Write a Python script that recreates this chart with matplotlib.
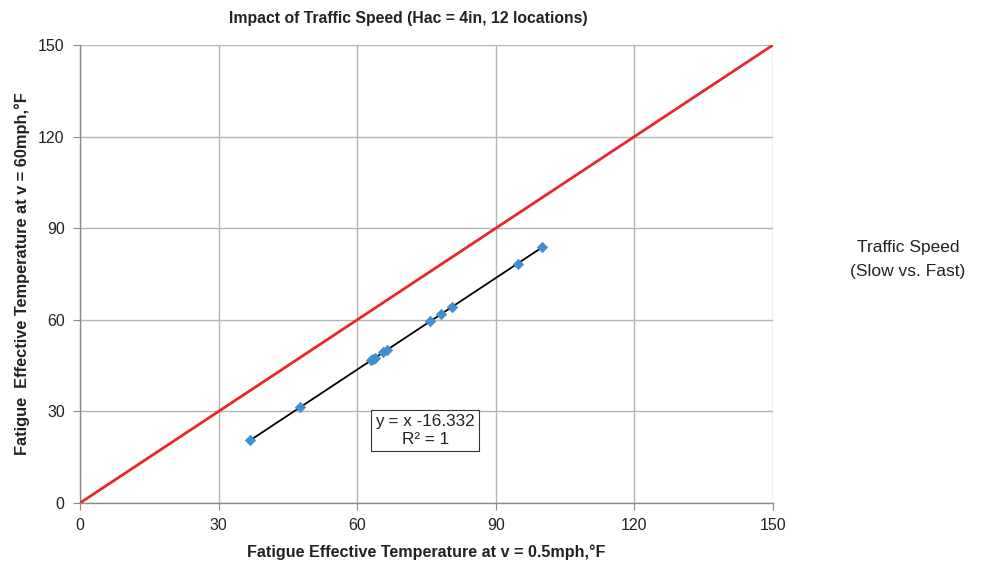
import numpy as np
import matplotlib
matplotlib.use("Agg")
import matplotlib.pyplot as plt

plt.rcParams['font.family'] = ['Liberation Sans', 'DejaVu Sans']

# Fatigue effective temperature (°F) at slow and fast traffic speeds, 12 locations
temp_slow = [36.8, 47.6, 63.0, 63.5, 63.9, 65.6, 66.4, 75.8, 78.1, 80.6, 94.7, 100.1]
temp_fast = [20.5, 31.3, 46.7, 47.2, 47.6, 49.3, 50.1, 59.5, 61.8, 64.3, 78.4, 83.8]
ticks = [0, 30, 60, 90, 120, 150]

fig = plt.figure(figsize=(9.94, 5.71), dpi=100)
ax = fig.add_axes([80/994, 1 - 503/571, 693/994, 458/571])

ax.set_xlim(0, 150)
ax.set_ylim(0, 150)
ax.set_xticks(ticks)
ax.set_yticks(ticks)
ax.grid(True, color='#b4b4b4', linewidth=1.0)
ax.set_axisbelow(True)
for side in ['top', 'right']:
    ax.spines[side].set_visible(False)
for side in ['left', 'bottom']:
    ax.spines[side].set_color('#8a8a8a')
    ax.spines[side].set_linewidth(1.0)
ax.tick_params(axis='both', direction='out', length=5, color='#8a8a8a',
               labelsize=11.5, labelcolor='#222222', pad=6)

# line of equality
ax.plot([0, 150], [0, 150], color='#e8262b', linewidth=2.0, zorder=3)

# linear trend line
xs = np.array(temp_slow)
ys = np.array(temp_fast)
slope, intercept = np.polyfit(xs, ys, 1)
xline = np.array([xs.min(), xs.max()])
ax.plot(xline, slope * xline + intercept, color='black', linewidth=1.3, zorder=4)

ax.scatter(xs, ys, marker='D', s=28, color='#3f8fd0', edgecolors='#3f8fd0',
           linewidths=0.5, zorder=5)

ax.text(74.7, 23.7, 'y = x -16.332\nR² = 1', ha='center', va='center', fontsize=12.3,
        color='#222222', linespacing=1.25,
        bbox=dict(boxstyle='square,pad=0.25', facecolor='white', edgecolor='#333333',
                  linewidth=0.8), zorder=6)

ax.set_xlabel('Fatigue Effective Temperature at v = 0.5mph,°F', fontsize=11.6,
              fontweight='bold', color='#222222', labelpad=8)
ax.set_ylabel('Fatigue  Effective Temperature at v = 60mph,°F', fontsize=11.8,
              fontweight='bold', color='#222222', labelpad=6)
fig.text(408/994, 1 - 19/571, 'Impact of Traffic Speed (Hac = 4in, 12 locations)',
         ha='center', va='center', fontsize=11.3, fontweight='bold', color='#222222')

fig.text(908/994, 1 - 260/571, 'Traffic Speed\n(Slow vs. Fast)', ha='center',
         va='center', fontsize=12.5, color='#222222', linespacing=1.75)

fig.savefig('out.png', dpi=100)
